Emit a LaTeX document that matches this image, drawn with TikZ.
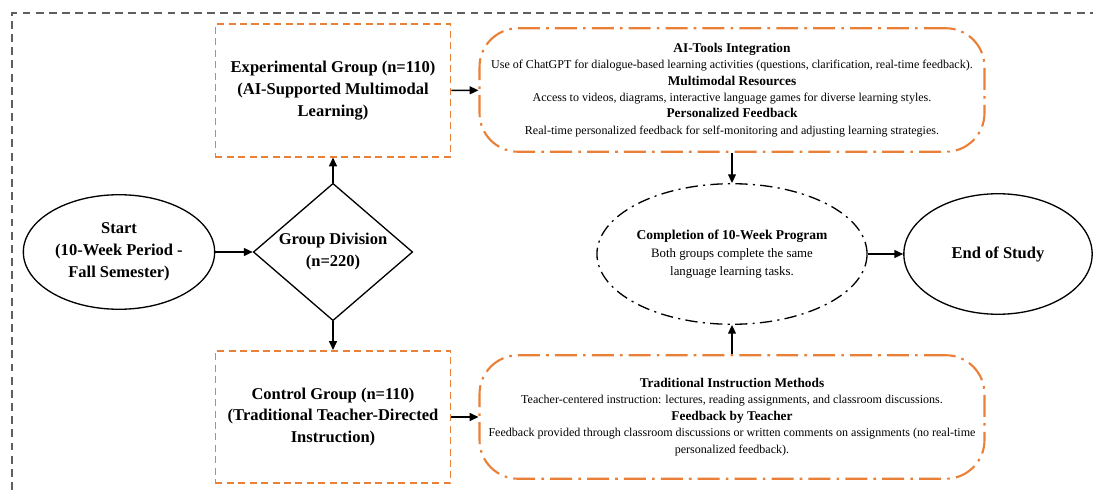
\documentclass[tikz,border=0pt]{standalone}
\usepackage{fontspec}
\setmainfont{Liberation Serif}
\usetikzlibrary{arrows.meta,shapes.geometric}
\definecolor{studyorange}{HTML}{EA8038}
\definecolor{studygray}{HTML}{5F5F5F}

\newcommand{\boxfont}{\fontsize{9.4}{12.5}\selectfont\bfseries}
\newcommand{\headfont}{\fontsize{7.6}{9.35}\selectfont\bfseries}
\newcommand{\bodyfont}{\fontsize{6.85}{9.35}\selectfont}

\tikzset{
  flowarrow/.style={-{Triangle[length=5pt,width=4.5pt]},line width=0.8pt},
  groupbox/.style={rectangle,draw=studyorange,line width=0.9pt,
    dash pattern=on 4pt off 2.5pt,minimum width=133.8pt,minimum height=75.4pt,
    inner sep=0pt,align=center,font=\boxfont},
  detailbox/.style={rectangle,draw=studyorange,line width=1.2pt,rounded corners=22pt,
    dash pattern=on 12.5pt off 3.5pt on 1.5pt off 3.5pt,minimum width=287.4pt,
    minimum height=70.3pt,inner sep=0pt,align=center,font=\bodyfont},
  terminal/.style={ellipse,draw,line width=0.75pt,inner sep=0pt,align=center,font=\boxfont}
}

\begin{document}
\begin{tikzpicture}[x=0.02cm,y=-0.02cm]
\useasboundingbox (0,0) rectangle (1093,490);
% outer frame (cut off at right and bottom)
\draw[studygray,line width=0.7pt,dash pattern=on 4.5pt off 3pt] (12,490) -- (12,13) -- (1093,13);

\node[terminal,minimum width=108.9pt,minimum height=65.2pt] (start) at (119,252)
  {Start\\(10-Week Period -\\Fall Semester)};
\node[diamond,draw,line width=0.75pt,inner sep=0pt,aspect=1.16,minimum width=90.7pt,
  minimum height=78.2pt,align=center,font=\boxfont] (division) at (333,252)
  {Group Division\\(n=220)};

\node[groupbox] (exper) at (333,90.5)
  {Experimental Group (n=110)\\(AI-Supported Multimodal\\Learning)};
\node[groupbox] (control) at (333,417)
  {Control Group (n=110)\\(Traditional Teacher-Directed\\Instruction)};

\node[detailbox] (aitools) at (732,90)
  {{\headfont AI-Tools Integration}\\
   Use of ChatGPT for dialogue-based learning activities (questions, clarification, real-time feedback).\\
   {\headfont Multimodal Resources}\\
   Access to videos, diagrams, interactive language games for diverse learning styles.\\
   {\headfont Personalized Feedback}\\
   Real-time personalized feedback for self-monitoring and adjusting learning strategies.};
\node[detailbox] (tradition) at (732,417)
  {{\headfont Traditional Instruction Methods}\\
   Teacher-centered instruction: lectures, reading assignments, and classroom discussions.\\
   {\headfont Feedback by Teacher}\\
   Feedback provided through classroom discussions or written comments on assignments (no real-time\\
   personalized feedback).};

\node[ellipse,draw,line width=0.75pt,dash pattern=on 7pt off 3pt on 1.2pt off 3pt,
  inner sep=0pt,minimum width=150.8pt,minimum height=80pt,align=center,
  font=\fontsize{7.3}{10.3}\selectfont] (complete) at (732,254)
  {{\fontsize{7.7}{10.3}\selectfont\bfseries Completion of 10-Week Program}\\
   Both groups complete the same\\language learning tasks.};
\node[terminal,minimum width=107.2pt,minimum height=68.6pt] (finish) at (998,254)
  {End of Study};

\draw[flowarrow] (start) -- (division);
\draw[flowarrow] (division) -- (exper);
\draw[flowarrow] (division) -- (control);
\draw[flowarrow] (exper) -- (aitools);
\draw[flowarrow] (control) -- (tradition);
\draw[flowarrow] (aitools) -- (complete);
\draw[flowarrow] (tradition) -- (complete);
\draw[flowarrow] (complete) -- (finish);
\end{tikzpicture}
\end{document}
